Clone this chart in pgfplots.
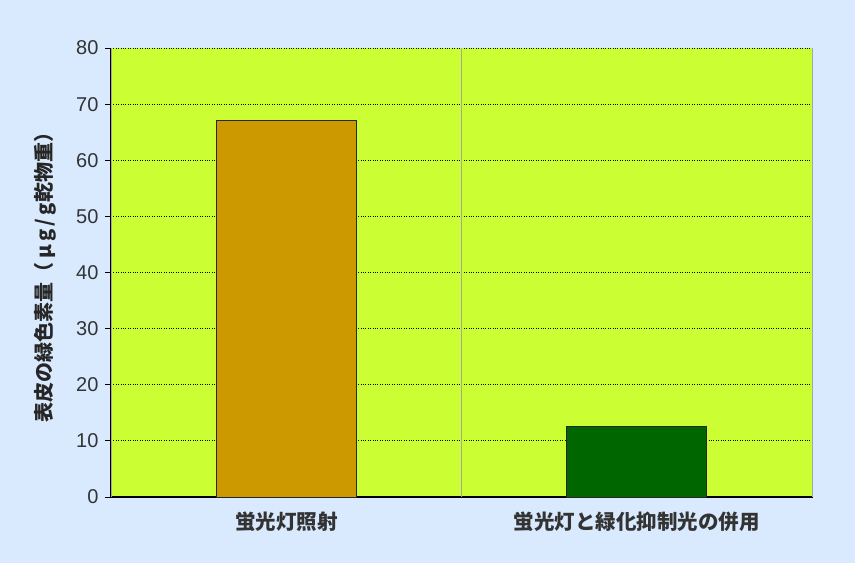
\documentclass[border=0pt]{standalone}
\usepackage{pgfplots}
\pgfplotsset{compat=1.18}
\usepackage{fontspec}
\setmainfont{Liberation Sans}
\newfontfamily\cjk{Noto Sans CJK JP}
\definecolor{bgblue}{RGB}{217,234,255}
\definecolor{plotbg}{RGB}{204,255,51}
\definecolor{barA}{RGB}{204,153,0}
\definecolor{barB}{RGB}{0,102,0}
\begin{document}
\begin{tikzpicture}[x=1pt,y=1pt]
\fill[bgblue] (0,0) rectangle (855,563);
\begin{axis}[
  at={(111pt,66pt)}, anchor=south west,
  width=701pt, height=449pt, scale only axis,
  xmin=-0.5, xmax=1.5, ymin=0, ymax=80,
  ytick={0,10,...,80},
  xtick={0,1},
  xticklabels={{\cjk\bfseries 蛍光灯照射},{\cjk\bfseries 蛍光灯と緑化抑制光の併用}},
  major x tick style={draw=none},
  extra x ticks={-0.5,0.5,1.5},
  extra x tick labels={},
  extra x tick style={grid=major, major grid style={gray!70, solid, line width=0.8pt}, tick style={draw=black, line width=0.8pt}, major tick length=6pt},
  axis lines*=left,
  axis line style={black, line width=1.2pt, -},
  axis background/.style={fill=plotbg},
  ymajorgrids,
  major grid style={black, dotted, line width=0.8pt},
  tick align=outside,
  major tick length=6pt,
  y tick style={black, line width=0.8pt},
  /pgf/number format/assume math mode=true,
  tick label style={font=\fontsize{20}{24}\selectfont, text=black!80},
  yticklabel style={xshift=-3pt},
  xticklabel style={font=\fontsize{20.5}{24}\selectfont, yshift=-5pt},
  ylabel={\cjk\bfseries 表皮の緑色素量（\,μ\,g\,/\,g乾物重）},
  ylabel style={font=\fontsize{20}{24}\selectfont, text=black!85, at={(axis description cs:-0.094,0.5)}, anchor=center, rotate=0},
  ybar, bar width=140pt, bar shift=0pt,
  clip=false,
]
\addplot[fill=barA, draw=black!85, line width=1pt] coordinates {(0,67)};
\addplot[fill=barB, draw=black!85, line width=1pt] coordinates {(1,12.5)};
\end{axis}
\end{tikzpicture}
\end{document}
